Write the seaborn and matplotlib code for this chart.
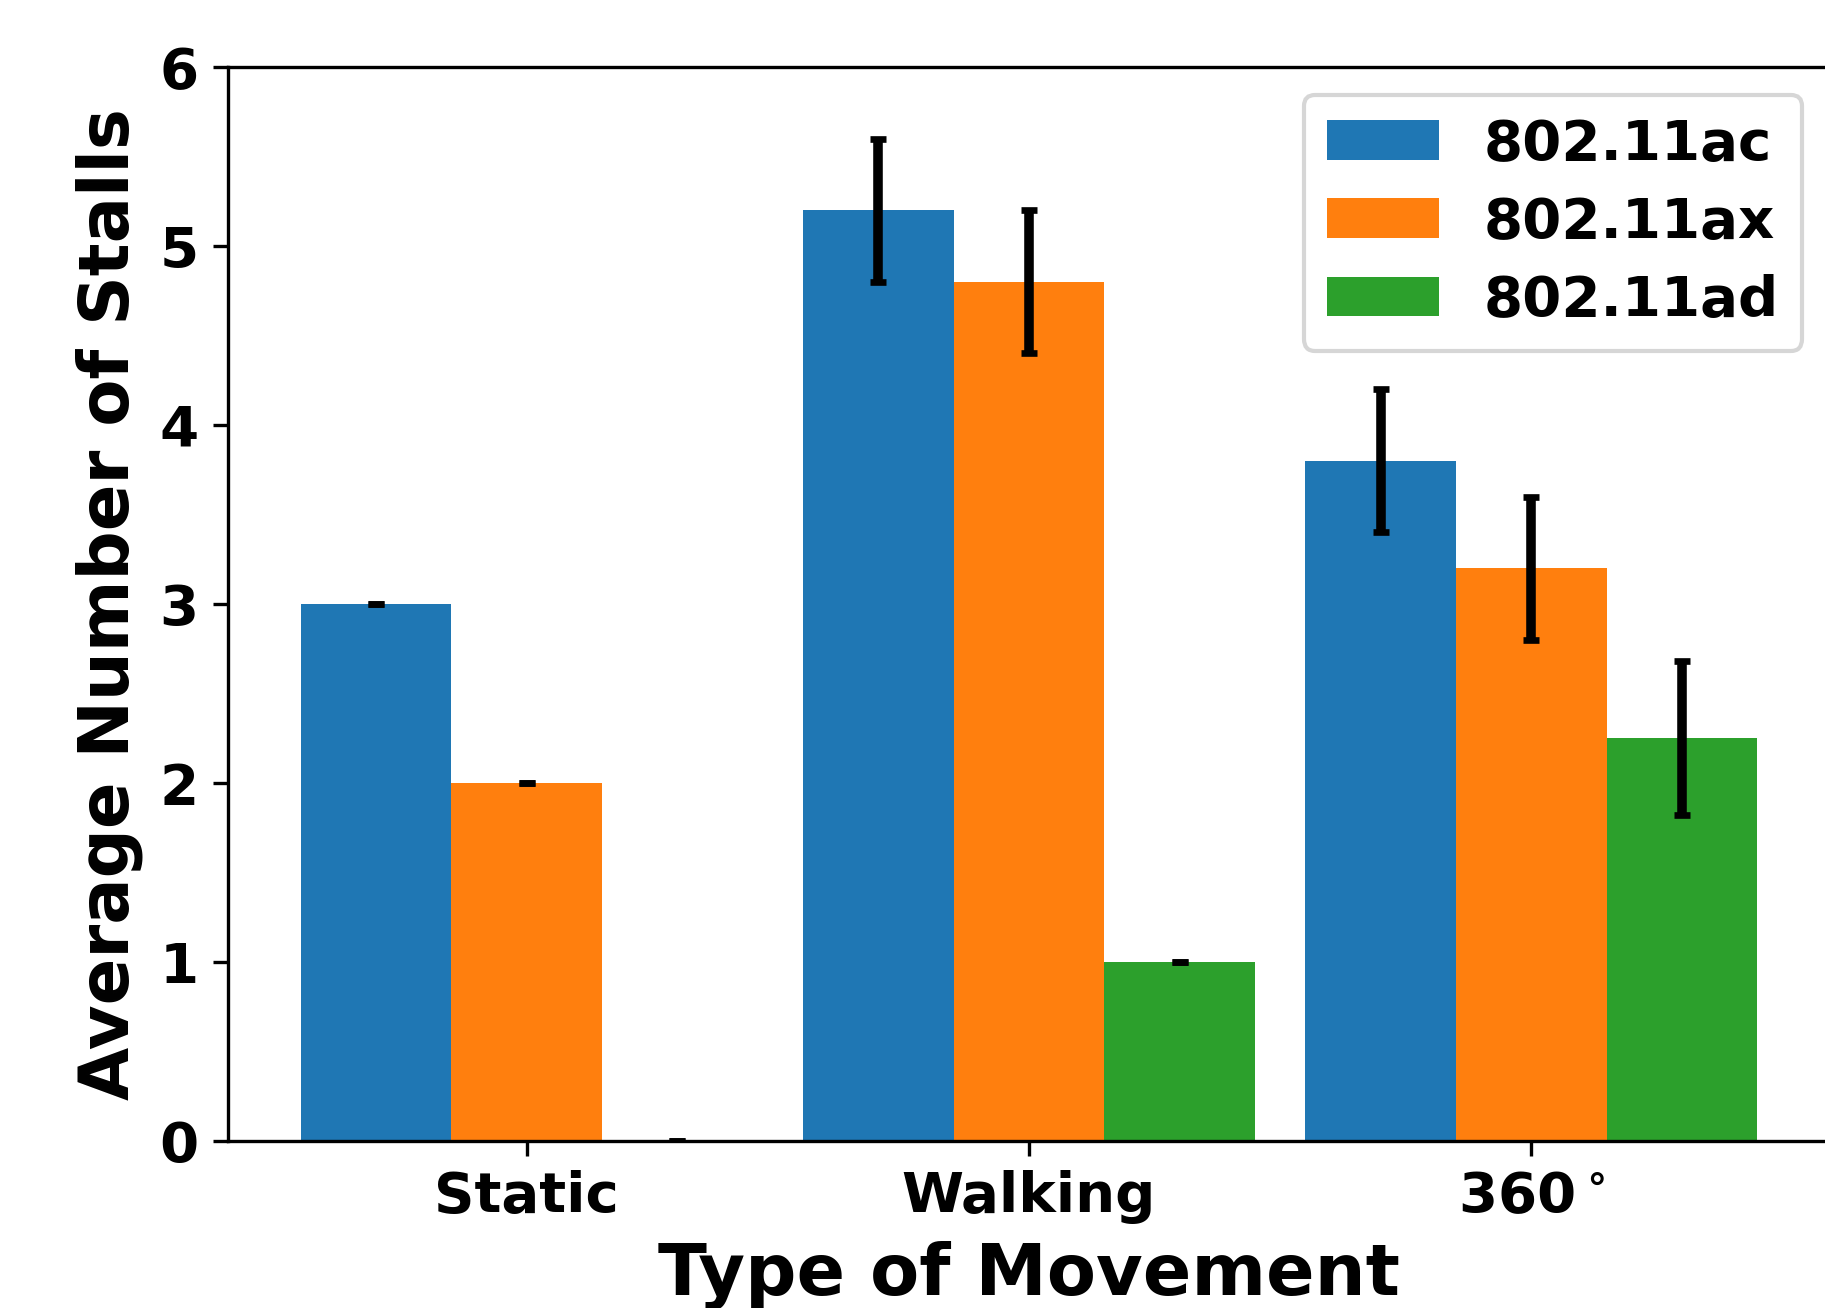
import matplotlib
matplotlib.use("Agg")
import matplotlib.pyplot as plt
import seaborn as sns
import pandas as pd

# Average stalls per movement type and Wi-Fi standard
movements = ["Static", "Walking", "360$^\\circ$"]
standards = ["802.11ac", "802.11ax", "802.11ad"]
stalls_ac = [3.0, 5.2, 3.8]
stalls_ax = [2.0, 4.8, 3.2]
stalls_ad = [0.0, 1.0, 2.25]
err_ac = [0.0, 0.4, 0.4]
err_ax = [0.0, 0.4, 0.4]
err_ad = [0.0, 0.0, 0.43]

values = [stalls_ac, stalls_ax, stalls_ad]
errors = [err_ac, err_ax, err_ad]
colors = ["#1f77b4", "#ff7f0e", "#2ca02c"]

rows = []
for std, vals in zip(standards, values):
    for mv, v in zip(movements, vals):
        rows.append({"movement": mv, "standard": std, "stalls": v})
df = pd.DataFrame(rows)

plt.rcParams["font.family"] = ["DejaVu Sans"]
plt.rcParams["font.weight"] = "bold"
plt.rcParams["axes.labelweight"] = "bold"

fig = plt.figure(figsize=(1825 / 300, 1308 / 300), dpi=300)
ax = fig.add_axes([228 / 1825, 1 - 1141 / 1308, 1602 / 1825, 1074 / 1308])

sns.barplot(data=df, x="movement", y="stalls", hue="standard",
            order=movements, hue_order=standards, palette=colors,
            saturation=1, width=0.9, gap=0, errorbar=None,
            linewidth=0, legend=False, ax=ax)

for cont, errs in zip(ax.containers, errors):
    xs = [b.get_x() + b.get_width() / 2 for b in cont]
    ys = [b.get_height() for b in cont]
    ax.errorbar(xs, ys, yerr=errs, fmt="none", ecolor="black",
                elinewidth=2.3, capsize=2, capthick=1.6, zorder=5)

ax.set_xlim(-0.595, 2.595)
ax.set_ylim(0, 6)
ax.set_yticks(range(7))
for s in ax.spines.values():
    s.set_visible(True)
    s.set_color("black")
    s.set_linewidth(0.8)

ax.tick_params(labelsize=13.5)
for lbl in ax.get_xticklabels() + ax.get_yticklabels():
    lbl.set_fontweight("bold")
ax.set_xlabel("Type of Movement", fontsize=17.2, fontweight="bold")
ax.set_ylabel("Average Number of Stalls", fontsize=16.5, fontweight="bold")

ax.legend(ax.containers, standards, loc="upper right", labelspacing=0.43,
          prop={"size": 13.5, "weight": "bold"})

fig.savefig("out.png", dpi=300)
